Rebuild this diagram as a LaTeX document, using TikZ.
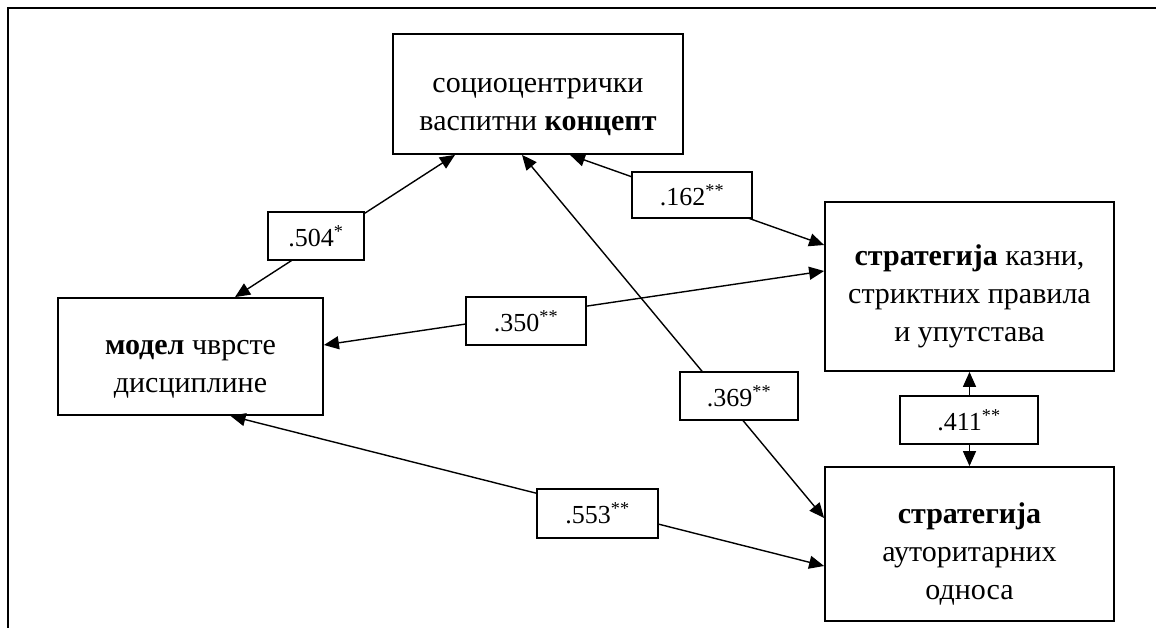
\documentclass[tikz,border=0pt]{standalone}
\usepackage{fontspec}
\setmainfont{Liberation Serif}
\usetikzlibrary{arrows.meta}

\newcommand{\boxtop}{\rule{0pt}{40pt}}

\begin{document}
\begin{tikzpicture}[x=1pt, y=-1pt,
  concept/.style={draw=black, line width=1.8pt, fill=white, align=center, inner sep=0pt, font=\fontsize{30}{38}\selectfont},
  coef/.style={draw=black, line width=1.4pt, fill=white, inner sep=0pt, font=\fontsize{26}{30}\selectfont},
  link/.style={line width=1.4pt, {Triangle[length=15pt,width=13pt]}-{Triangle[length=15pt,width=13pt]}}]
\useasboundingbox (0,0) rectangle (1156,628);

%draw frame
\draw[line width=1.8pt] (8,660) -- (8,8) -- (1180,8);

%draw boxes
\node[concept, minimum width=290, minimum height=120] (kon) at (538,94) {\boxtop социоцентрички\\васпитни \textbf{концепт}};
\node[concept, minimum width=289, minimum height=169] (kazne) at (969.5,286.5) {\boxtop\textbf{стратегија} казни,\\стриктних правила\\и упутстава};
\node[concept, minimum width=265, minimum height=117] (model) at (190.5,356.5) {\boxtop\textbf{модел} чврсте\\дисциплине};
\node[concept, minimum width=289, minimum height=154] (odnosi) at (969.5,544) {\boxtop\textbf{стратегија}\\ауторитарних\\односа};

%draw correlations
\draw[link] ([xshift=-83pt]kon.south) -- ([xshift=44.5pt]model.north);
\draw[link] ([xshift=32pt]kon.south) -- ([yshift=41.5pt]kazne.west);
\draw[link] ([xshift=-16pt]kon.south) -- ([yshift=26pt]odnosi.west);
\draw[link] ([yshift=11.5pt]model.east) -- ([yshift=15.5pt]kazne.west);
\draw[link] ([xshift=40pt]model.south) -- ([yshift=-22pt]odnosi.west);
\draw[link] (kazne.south) -- (odnosi.north);

%draw coefficients
\node[coef, minimum width=96, minimum height=48] (r504) at (316,236) {.504\textsuperscript{*}};
\node[coef, minimum width=120, minimum height=46] (r162) at (692,195) {.162\textsuperscript{**}};
\node[coef, minimum width=120, minimum height=48] (r350) at (526,321) {.350\textsuperscript{**}};
\node[coef, minimum width=118, minimum height=48] (r369) at (739,396) {.369\textsuperscript{**}};
\node[coef, minimum width=138, minimum height=48] (r411) at (969,420) {.411\textsuperscript{**}};
\node[coef, minimum width=121, minimum height=49] (r553) at (597.5,513.5) {.553\textsuperscript{**}};
\end{tikzpicture}
\end{document}
